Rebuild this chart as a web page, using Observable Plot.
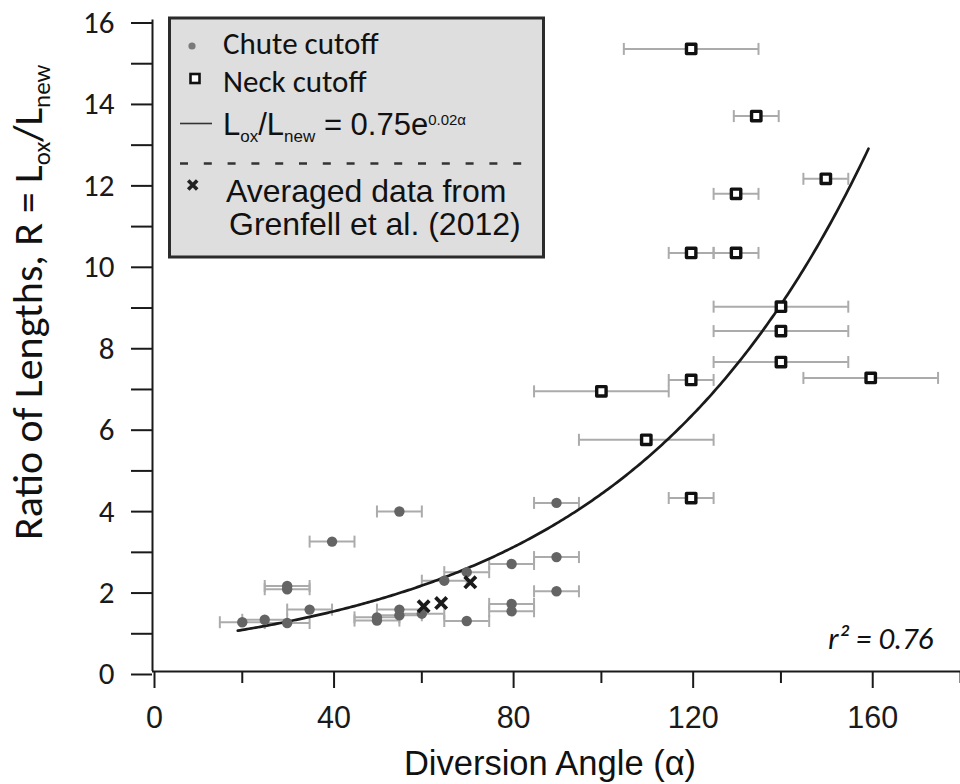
<!DOCTYPE html>
<html><head><meta charset="utf-8">
<script src="https://cdn.jsdelivr.net/npm/d3@7"></script>
<script src="https://cdn.jsdelivr.net/npm/@observablehq/plot@0.6"></script>
<style>
html,body{margin:0;padding:0;background:#fff;}
#chart{width:960px;height:784px;}
</style></head><body><div id="chart"></div>
<script>
// ---- Chute cutoff (angle, ratio, angle uncertainty) ----
const chuteAngle = [20, 25, 30, 30, 30, 35, 40, 50, 50, 55, 55, 55, 60, 65, 70, 70, 80, 80, 80, 90, 90, 90];
const chuteRatio = [1.21, 1.27, 1.19, 2.02, 2.10, 1.52, 3.19, 1.33, 1.25, 1.52, 1.38, 3.93, 1.42, 2.23, 2.44, 1.24, 2.64, 1.66, 1.48, 4.14, 2.81, 1.97];
const chuteErr   = [5, 5, 5, 5, 5, 5, 5, 5, 5, 5, 5, 5, 5, 5, 5, 5, 5, 5, 5, 5, 5, 5];
// ---- Neck cutoff ----
const neckAngle = [120, 134.5, 150, 130, 120, 130, 140, 140, 140, 160, 120, 100, 110, 120];
const neckRatio = [15.29, 13.64, 12.10, 11.73, 10.28, 10.28, 8.96, 8.36, 7.60, 7.21, 7.16, 6.88, 5.69, 4.26];
const neckErr   = [15, 5, 5, 5, 5, 5, 15, 15, 15, 15, 5, 15, 15, 5];
// ---- Averaged data from Grenfell et al. (2012) ----
const grenAngle = [60.4, 64.3, 70.8];
const grenRatio = [1.60, 1.68, 2.19];
// ---- Fitted exponential curve as drawn (R = a·e^(k·α)) ----
const fitA = 0.71, fitK = 0.01815, fitFrom = 19, fitTo = 159.5;
// ---- Ticks ----
const xTicksMajor = [0, 40, 80, 120, 160];
const xTicksMinor = [20, 60, 100, 140, 180];
const yTicks = [0, 1, 2, 3, 4, 5, 6, 7, 8, 9, 10, 11, 12, 13, 14, 15, 16];
const yTickLabels = [0, 2, 4, 6, 8, 10, 12, 14, 16];

const chute = chuteAngle.map((x, i) => ({x, y: chuteRatio[i], e: chuteErr[i]}));
const neck = neckAngle.map((x, i) => ({x, y: neckRatio[i], e: neckErr[i]}));
const gren = grenAngle.map((x, i) => ({x, y: grenRatio[i]}));
const bars = chute.concat(neck);
const curve = d3.range(fitFrom, fitTo + 0.001, 0.5).map(a => ({x: a, y: fitA * Math.exp(fitK * a)}));

const capSymbol = {draw(ctx, size) { const h = Math.sqrt(size / Math.PI); ctx.moveTo(0, -h); ctx.lineTo(0, h); }};
const labelSet = new Set(yTickLabels);
const AX = "#1a1a1a";
const ARIAL = "Liberation Sans, Arial, sans-serif";
const CALI = "Carlito, Lato, sans-serif";

const svgEl = Plot.plot({
  width: 960, height: 784,
  marginLeft: 152, marginRight: 0, marginTop: 19.5, marginBottom: 113,
  style: {background: "white", color: AX},
  x: {domain: [0, 180]},
  y: {domain: [0, 16]},
  marks: [
    Plot.axisY({ticks: yTicks, tickSize: 21, tickPadding: 17, strokeWidth: 2,
      tickFormat: d => labelSet.has(d) ? String(d) : "", fontSize: 31, fontFamily: CALI, dy: 3, label: null}),
    Plot.axisX({ticks: xTicksMinor, tickSize: 12, strokeWidth: 2, tickFormat: () => "", label: null}),
    Plot.axisX({ticks: xTicksMajor, tickSize: 17, tickPadding: 18, strokeWidth: 2,
      fontSize: 30.5, fontFamily: ARIAL, dx: 2, label: null}),
    Plot.ruleX([0], {stroke: AX, strokeWidth: 2}),
    Plot.ruleY([0], {stroke: AX, strokeWidth: 2}),
    // error bars
    Plot.ruleY(bars, {y: "y", x1: d => d.x - d.e, x2: d => d.x + d.e, stroke: "#ababab", strokeWidth: 2}),
    Plot.dot(bars, {x: d => d.x - d.e, y: "y", symbol: capSymbol, r: 6, fill: "none", stroke: "#ababab", strokeWidth: 2}),
    Plot.dot(bars, {x: d => d.x + d.e, y: "y", symbol: capSymbol, r: 6, fill: "none", stroke: "#ababab", strokeWidth: 2}),
    // fitted curve
    Plot.line(curve, {x: "x", y: "y", stroke: "#1a1a1a", strokeWidth: 2.7}),
    // points
    Plot.dot(chute, {x: "x", y: "y", r: 5.2, fill: "#646464", stroke: "none"}),
    Plot.dot(neck, {x: "x", y: "y", symbol: "square", r: 5.3, fill: "white", stroke: "#111", strokeWidth: 3.4, strokeLinejoin: "round"}),
    Plot.dot(gren, {x: "x", y: "y", symbol: "times", r: 5.2, fill: "none", stroke: "#1a1a1a", strokeWidth: 3.8}),
    Plot.text(["r² = 0.76"], {frameAnchor: "bottom-right", dx: -27, dy: -23, lineAnchor: "bottom", textAnchor: "end",
      fontSize: 31, fontStyle: "italic", fontFamily: CALI, fill: "#111"})
  ]
});
document.getElementById("chart").appendChild(svgEl);

const svg = d3.select(svgEl);
// Y axis title
const yt = svg.append("text").attr("transform", "translate(42,540) rotate(-90)").attr("text-anchor", "start")
  .attr("font-family", CALI).attr("font-size", 42).attr("fill", "#111");
yt.append("tspan").text("Ratio of Lengths, R = L");
yt.append("tspan").attr("font-size", 25).attr("dy", 8).text("ox");
yt.append("tspan").attr("dy", -8).text("/L");
yt.append("tspan").attr("font-size", 25).attr("dy", 8).text("new");
// X axis title
svg.append("text").attr("x", 550).attr("y", 775).attr("text-anchor", "middle")
  .attr("font-family", ARIAL).attr("font-size", 34.5).attr("fill", "#111").text("Diversion Angle (α)");

// Legend
const lg = svg.append("g").attr("text-anchor", "start");
lg.append("rect").attr("x", 169.5).attr("y", 18).attr("width", 374).attr("height", 239)
  .attr("fill", "#dedede").attr("stroke", "#2b2b2b").attr("stroke-width", 3);
lg.append("circle").attr("cx", 192).attr("cy", 46).attr("r", 3.6).attr("fill", "#7a7a7a");
lg.append("text").attr("x", 223).attr("y", 53.5).attr("font-family", CALI).attr("font-size", 31).attr("fill", "#111").text("Chute cutoff");
lg.append("rect").attr("x", 190.5).attr("y", 74).attr("width", 9).attr("height", 9)
  .attr("fill", "white").attr("stroke", "#111").attr("stroke-width", 2.6);
lg.append("text").attr("x", 223).attr("y", 91.7).attr("font-family", CALI).attr("font-size", 31).attr("fill", "#111").text("Neck cutoff");
lg.append("line").attr("x1", 180).attr("x2", 212).attr("y1", 123.5).attr("y2", 123.5).attr("stroke", "#333").attr("stroke-width", 1.6);
const ft = lg.append("text").attr("x", 223).attr("y", 135).attr("font-family", ARIAL).attr("font-size", 31).attr("fill", "#111");
ft.append("tspan").text("L");
ft.append("tspan").attr("font-size", 17).attr("dy", 7).text("ox");
ft.append("tspan").attr("dy", -7).text("/L");
ft.append("tspan").attr("font-size", 17).attr("dy", 7).text("new");
ft.append("tspan").attr("dy", -7).text(" = 0.75e");
ft.append("tspan").attr("font-size", 15).attr("dy", -10).text("0.02α");
lg.append("line").attr("x1", 180).attr("x2", 526).attr("y1", 163.5).attr("y2", 163.5)
  .attr("stroke", "#333").attr("stroke-width", 2.6).attr("stroke-dasharray", "8,15.8");
lg.append("path").attr("d", "M188.2,180.5L197.2,189.5M197.2,180.5L188.2,189.5").attr("stroke", "#222").attr("stroke-width", 3.6).attr("fill", "none");
lg.append("text").attr("x", 226).attr("y", 201.7).attr("font-family", ARIAL).attr("font-size", 32).attr("fill", "#111").text("Averaged data from");
lg.append("text").attr("x", 229).attr("y", 235).attr("font-family", ARIAL).attr("font-size", 32).attr("fill", "#111").text("Grenfell et al. (2012)");
</script>
</body></html>
